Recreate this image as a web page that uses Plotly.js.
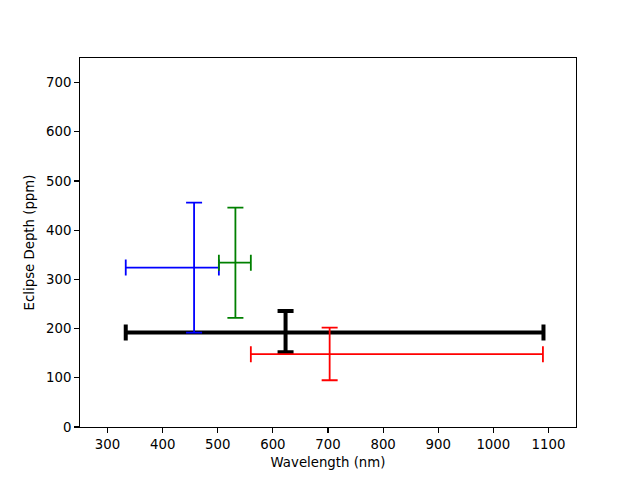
<!DOCTYPE html>
<html>
<head>
<meta charset="utf-8">
<script src="https://cdn.plot.ly/plotly-3.0.1.min.js"></script>
<style>html,body{margin:0;padding:0;background:#fff;}#plot{width:640px;height:480px;}</style>
</head>
<body>
<div id="plot"></div>
<script>
// Data
const names = ["blue", "green", "black", "red"];
const colors = ["#0000ff", "#008000", "#000000", "#ff0000"];
const wavelength = [457, 532, 623, 703];
const wavelengthErrPlus = [45, 28, 468, 387];
const wavelengthErrMinus = [124, 30, 290, 143];
const depth = [324, 334, 192, 148];
const depthErrPlus = [132, 112, 44, 54];
const depthErrMinus = [132, 112, 40, 53];
const thickness = [1.8, 1.8, 4, 1.8];

const order = [2, 0, 1, 3];
const traces = order.map(i => ({
  type: "scatter",
  mode: "markers",
  name: names[i],
  x: [wavelength[i]],
  y: [depth[i]],
  marker: {size: 2, opacity: 0, color: colors[i]},
  error_x: {type: "data", symmetric: false, array: [wavelengthErrPlus[i]], arrayminus: [wavelengthErrMinus[i]],
            color: colors[i], thickness: thickness[i], width: 8},
  error_y: {type: "data", symmetric: false, array: [depthErrPlus[i]], arrayminus: [depthErrMinus[i]],
            color: colors[i], thickness: thickness[i], width: 8},
  showlegend: false,
  hoverinfo: "skip"
}));

const font = {family: "DejaVu Sans", size: 13.3, color: "#000"};
const layout = {
  width: 640, height: 480,
  margin: {l: 80, r: 64, t: 57.6, b: 52.8, pad: 0},
  paper_bgcolor: "#fff", plot_bgcolor: "#fff",
  font: font,
  showlegend: false,
  xaxis: {
    range: [250, 1150], tickmode: "linear", tick0: 300, dtick: 100,
    showgrid: false, zeroline: false, showline: true, mirror: true,
    linecolor: "#000", linewidth: 1, ticks: "outside", ticklen: 4.9, tickwidth: 1.1, tickcolor: "#000",
    tickfont: font,
    title: {text: "Wavelength (nm)", font: font, standoff: 6}
  },
  yaxis: {
    range: [0, 750], tickmode: "linear", tick0: 0, dtick: 100,
    showgrid: false, zeroline: false, showline: true, mirror: true,
    linecolor: "#000", linewidth: 1, ticks: "outside", ticklen: 4.9, tickwidth: 1.1, tickcolor: "#000",
    tickfont: font,
    title: {text: "Eclipse Depth (ppm)", font: font, standoff: 8}
  }
};
Plotly.newPlot("plot", traces, layout, {staticPlot: true, displayModeBar: false});
</script>
</body>
</html>
